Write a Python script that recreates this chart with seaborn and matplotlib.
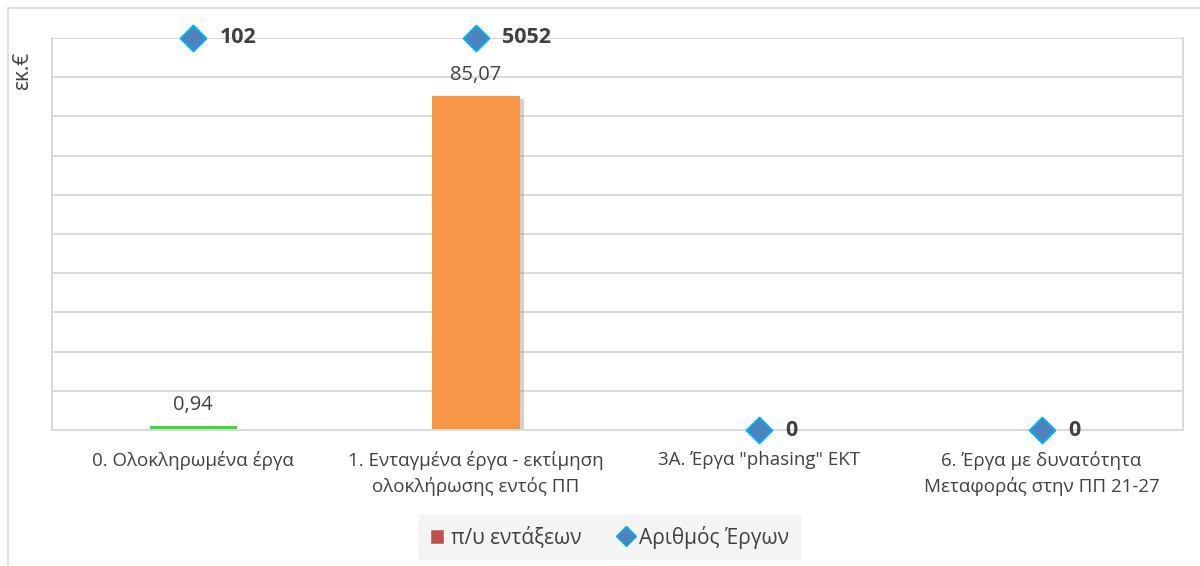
import matplotlib.pyplot as plt
import matplotlib.patheffects as pe
from matplotlib.lines import Line2D
from matplotlib.patches import Patch, Rectangle
import numpy as np
import pandas as pd
import seaborn as sns

categories = ['0. Ολοκληρωμένα έργα',
              '1. Ενταγμένα έργα - εκτίμηση\nολοκλήρωσης εντός ΠΠ',
              '3Α. Έργα "phasing" ΕΚΤ',
              '6. Έργα με δυνατότητα\nΜεταφοράς στην ΠΠ 21-27']
py_entaxeon = [0.94, 85.07, 0, 0]
arithmos_ergon = [102, 5052, 0, 0]
bar_colors = ['#33DD33', '#F79646', '#F79646', '#F79646']

df = pd.DataFrame({'cat': categories, 'py': py_entaxeon, 'n': arithmos_ergon})

sns.set_style('white')
plt.rcParams['font.family'] = ['Open Sans', 'DejaVu Sans']

fig = plt.figure(figsize=(12, 5.66), dpi=100)
ax = fig.add_axes([0.0433, 0.240, 0.9425, 0.693])

sns.barplot(data=df, x='cat', y='py', hue='cat', palette=bar_colors, legend=False,
            width=0.31, saturation=1, ax=ax, linewidth=0)
for p in ax.patches:
    p.set_path_effects([pe.SimplePatchShadow(offset=(3, -2), shadow_rgbFace='#999999', alpha=0.45),
                        pe.Normal()])
ax.set_ylim(0, 100)
ax.set_yticks(np.arange(0, 101, 10))
ax.set_yticklabels([])
ax.tick_params(axis='y', length=0)
ax.grid(axis='y', color='#D9D9D9', linewidth=1.4)
ax.set_axisbelow(True)
ax.set_xlabel('')
ax.set_ylabel('εκ.€', fontsize=15, color='#404040')
ax.yaxis.set_label_coords(-0.017, 0.915)
ax.tick_params(axis='x', which='major', length=0, labelsize=13.5, labelcolor='#404040', pad=15)
for t in ax.get_xticklabels():
    t.set_linespacing(1.45)
ax.set_xticks(np.arange(-0.5, 4, 1), minor=True)
ax.tick_params(axis='x', which='minor', length=7, color='#D9D9D9', width=1.4)
for s in ['left', 'right', 'top', 'bottom']:
    ax.spines[s].set_color('#D9D9D9')
    ax.spines[s].set_linewidth(1.4)
ax.spines['top'].set_visible(False)

for i, v in enumerate(py_entaxeon):
    if v > 0:
        ax.annotate(f'{v:.2f}'.replace('.', ','), (i, v), xytext=(0, 8), textcoords='offset points',
                    ha='center', va='bottom', fontsize=14.5, color='#404040')

ax2 = ax.twinx()
ymax2 = 100
shown = np.minimum(np.array(arithmos_ergon, dtype=float), ymax2)
sns.scatterplot(x=np.arange(len(categories)), y=shown, marker='D', s=170, color='#4F81BD',
                edgecolor='#00B0F0', linewidth=1.5, ax=ax2, clip_on=False, zorder=5)
ax2.set_ylim(0, ymax2)
ax2.set_yticks([])
ax2.set_ylabel('')
for s in ['left', 'right', 'top', 'bottom']:
    ax2.spines[s].set_visible(False)
for i, (v, y) in enumerate(zip(arithmos_ergon, shown)):
    ax2.annotate(str(v), (i, y), xytext=(19, 0), textcoords='offset points',
                 ha='left', va='center', fontsize=15.5, fontweight='bold', color='#404040')
ax.set_xlim(-0.5, 3.5)
ax2.set_xlim(-0.5, 3.5)

handles = [Patch(facecolor='#C0504D', edgecolor='white', label='π/υ εντάξεων'),
           Line2D([], [], marker='D', linestyle='', markersize=10, markerfacecolor='#4F81BD',
                  markeredgecolor='#00B0F0', label='Αριθμός Έργων')]
leg = fig.legend(handles=handles, loc='center', bbox_to_anchor=(0.508, 0.051), ncol=2,
                 fontsize=15, frameon=True, fancybox=False, handlelength=0.7, handletextpad=0.3,
                 columnspacing=1.8, borderpad=0.5, borderaxespad=0)
leg.get_frame().set_facecolor('#F2F2F2')
leg.get_frame().set_edgecolor('#F2F2F2')
for t in leg.get_texts():
    t.set_color('#404040')

fig.patches.append(Rectangle((8 / 1200, -0.1), 1.2, 1 - 8 / 566 + 0.1, transform=fig.transFigure,
                             fill=False, edgecolor='#D9D9D9', linewidth=1.2))

fig.savefig('out.png', dpi=100)
